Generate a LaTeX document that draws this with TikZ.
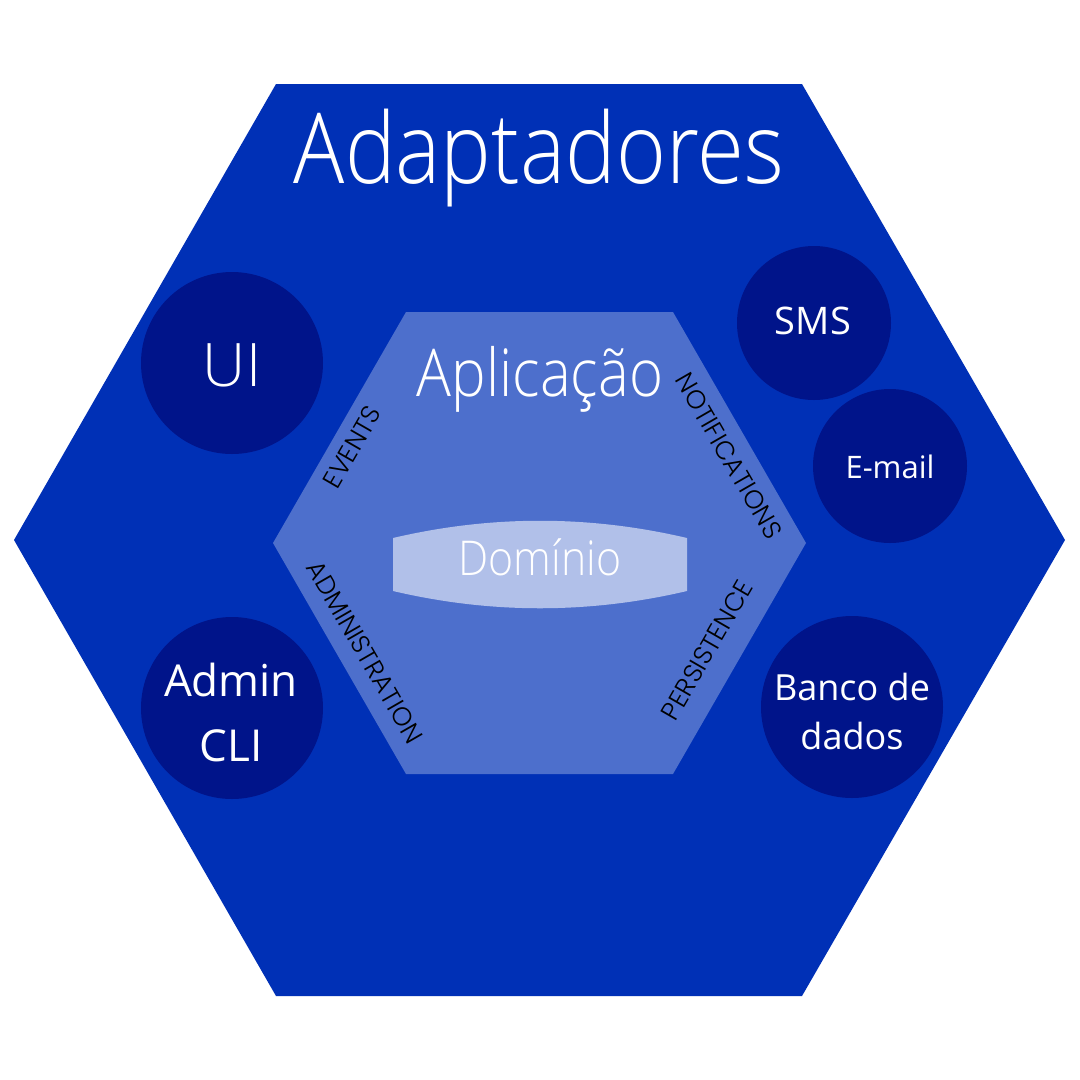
\documentclass[tikz,border=0pt]{standalone}
\usepackage{fontspec}
\IfFontExistsTF{Open Sans Light}{\newfontfamily\lightf{Open Sans Light}}{\newfontfamily\lightf{Open Sans}}
\newfontfamily\regf{Open Sans}
\IfFontExistsTF{Poppins Light}{\newfontfamily\geof{Poppins Light}}{\newfontfamily\geof{Poppins}}
\definecolor{outerc}{RGB}{0,48,182}
\definecolor{innerc}{RGB}{77,111,204}
\definecolor{domc}{RGB}{177,192,233}
\definecolor{circc}{RGB}{0,20,138}
\tikzset{
  adapter/.style={circle, fill=circc, inner sep=0pt},
  whitetxt/.style={text=white, inner sep=0pt, align=center},
  portlbl/.style={text=black, inner sep=0pt, font=\geof\fontsize{26}{26}\selectfont},
}
\begin{document}
\begin{tikzpicture}[x=1pt,y=-1pt]
\useasboundingbox[fill=white] (0,0) rectangle (1080,1080);
% outer hexagon
\fill[outerc] (276,84) -- (802,84) -- (1065,540) -- (802,996) -- (276,996) -- (14,540) -- cycle;
% inner hexagon
\fill[innerc] (406,312) -- (673,312) -- (806,543) -- (673,774) -- (406,774) -- (273,543) -- cycle;
% domain shape
\fill[domc] (393,538) .. controls (491,515) and (589,515) .. (687,538) -- (687,591) .. controls (589,614) and (491,614) .. (393,591) -- cycle;
% adapter circles
\node[adapter, minimum size=182pt] (ui) at (232,363) {};
\node[adapter, minimum size=182pt] (admin) at (232,708) {};
\node[adapter, minimum size=154pt] (sms) at (814,323) {};
\node[adapter, minimum size=154pt] (email) at (890,466) {};
\node[adapter, minimum size=182pt] (db) at (852,707) {};
% texts
\node[whitetxt, anchor=base, xscale=0.87, font=\lightf\fontsize{98}{98}\selectfont] (adapt) at (539,183) {Adaptadores};
\node[whitetxt, anchor=base, xscale=0.88, font=\lightf\fontsize{66}{66}\selectfont] (app) at (540,396) {Aplicação};
\node[whitetxt, anchor=base, xscale=0.89, font=\lightf\fontsize{48}{48}\selectfont] (dom) at (540,575) {Domínio};
\node[whitetxt, anchor=base, font=\lightf\fontsize{60}{60}\selectfont] (uit) at (232,386) {UI};
\node[whitetxt, anchor=base, font=\regf\fontsize{44}{44}\selectfont] (admt) at (231,696) {Admin};
\node[whitetxt, anchor=base, font=\regf\fontsize{44}{44}\selectfont] (clit) at (231,761) {CLI};
\node[whitetxt, anchor=base, font=\regf\fontsize{38}{38}\selectfont] (smst) at (813,334) {SMS};
\node[whitetxt, anchor=base, font=\regf\fontsize{31}{31}\selectfont] (emt) at (890,478) {E-mail};
\node[whitetxt, anchor=base, font=\regf\fontsize{36}{36}\selectfont] (bt) at (852,700) {Banco de};
\node[whitetxt, anchor=base, font=\regf\fontsize{36}{36}\selectfont] (dt) at (852,749) {dados};
% port labels
\node[portlbl, rotate=60] (ev) at (352,447) {EVENTS};
\node[portlbl, rotate=-60] (nt) at (729,456) {NOTIFICATIONS};
\node[portlbl, rotate=-60] (ad) at (365,652) {ADMINISTRATION};
\node[portlbl, rotate=60] (pe) at (707,650) {PERSISTENCE};
\end{tikzpicture}
\end{document}
